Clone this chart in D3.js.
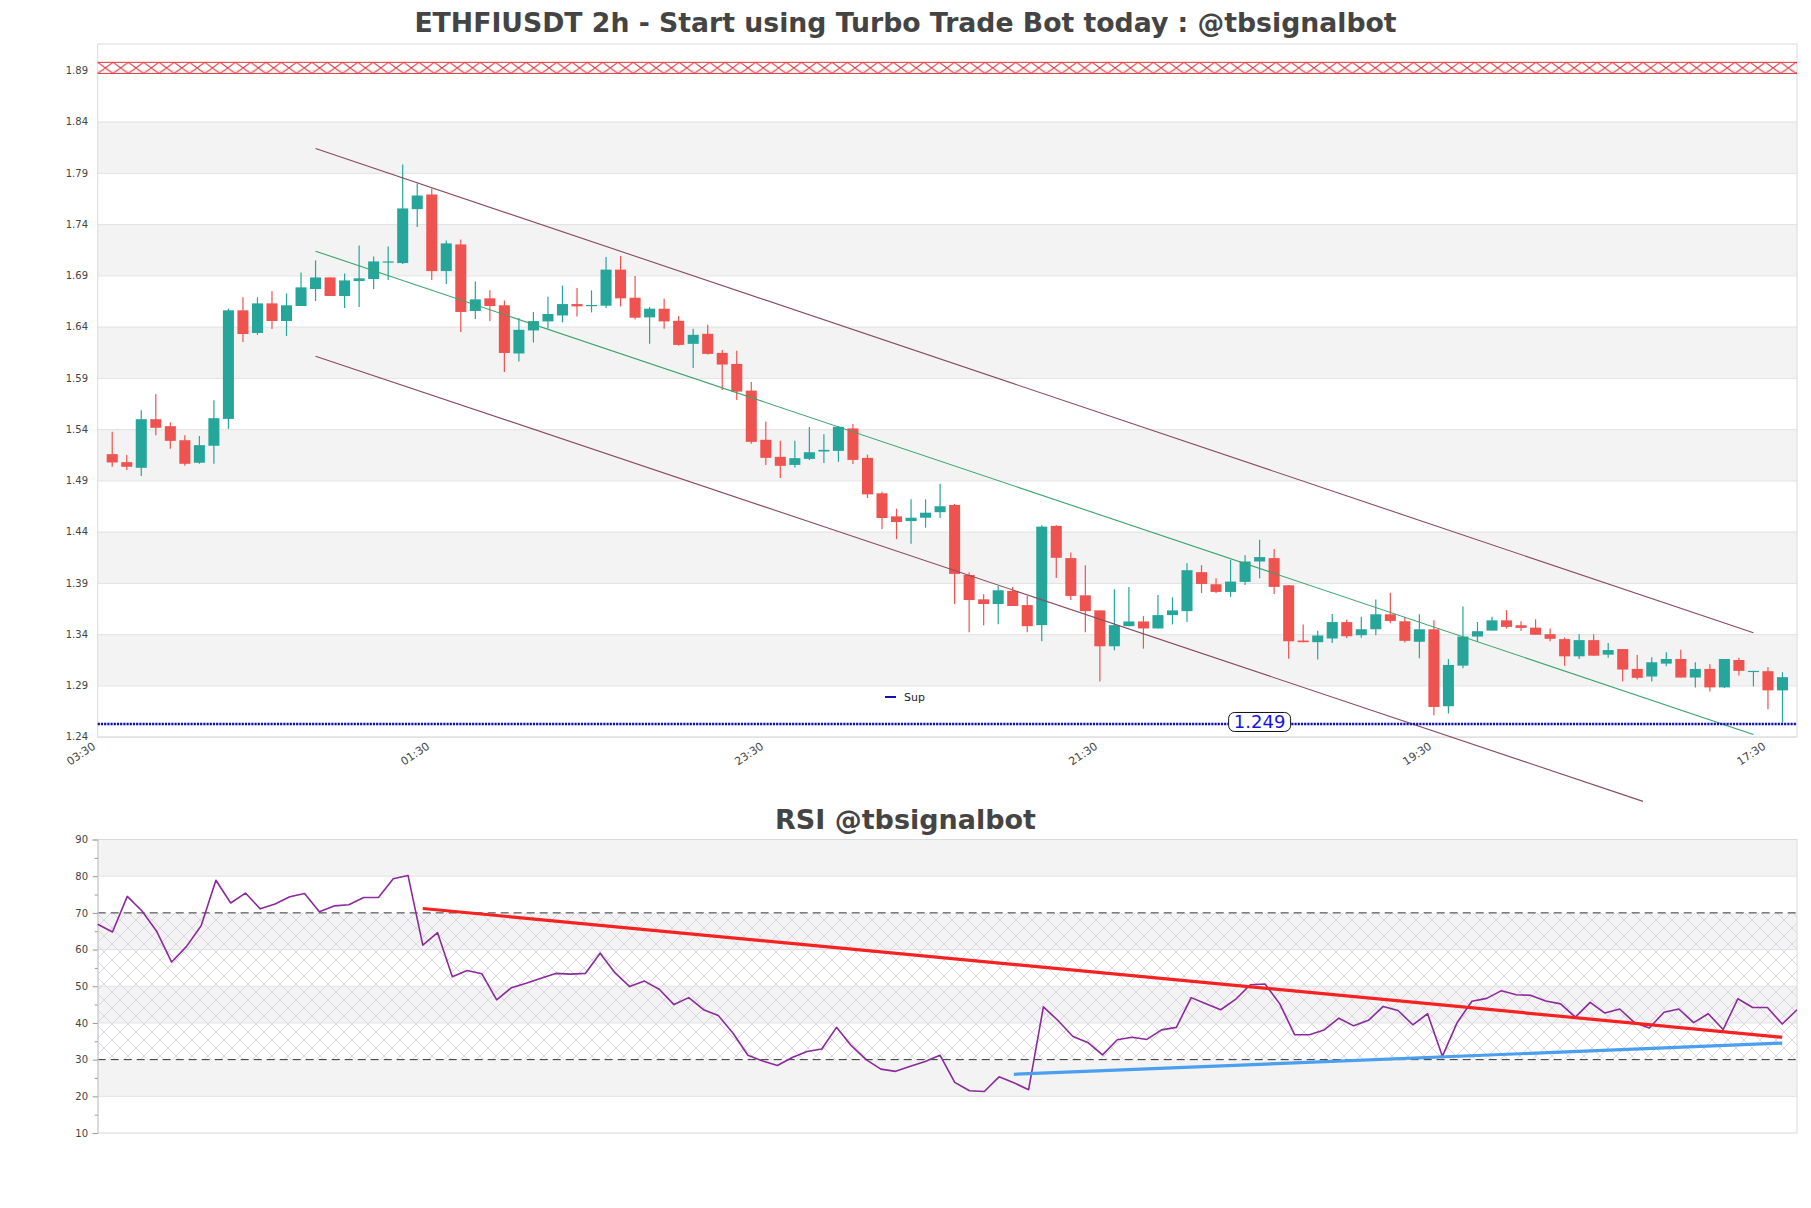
<!DOCTYPE html>
<html><head><meta charset="utf-8">
<script src="https://cdn.jsdelivr.net/npm/d3@7"></script>
<style>body{margin:0;background:#fff;} svg{display:block;}</style>
</head><body>
<svg id="c" width="1811" height="1208"></svg>
<script>
// ---------------- DATA ----------------
const opens  = [1.5156,1.5078,1.5023,1.5497,1.5429,1.5292,1.5072,1.5238,1.5500,1.6559,1.6338,1.6627,1.6455,1.6601,1.6767,1.6880,1.6699,1.6845,1.6864,1.7031,1.7020,1.7546,1.7689,1.6942,1.7202,1.6553,1.6676,1.6608,1.6138,1.6363,1.6451,1.6509,1.6620,1.6601,1.6604,1.6956,1.6682,1.6490,1.6575,1.6457,1.6232,1.6330,1.6144,1.6036,1.5776,1.5296,1.5130,1.5051,1.5110,1.5182,1.5188,1.5407,1.5120,1.4774,1.4549,1.4503,1.4536,1.4590,1.4661,1.3978,1.3740,1.3694,1.3822,1.3684,1.3488,1.4456,1.4142,1.3779,1.3632,1.3282,1.3478,1.3524,1.3456,1.3586,1.3625,1.4005,1.3887,1.3812,1.3910,1.4109,1.4142,1.3877,1.3338,1.3322,1.3358,1.3518,1.3390,1.3448,1.3594,1.3526,1.3326,1.3448,1.2697,1.3093,1.3377,1.3435,1.3535,1.3487,1.3464,1.3400,1.3352,1.3184,1.3342,1.3200,1.3255,1.3061,1.2987,1.3113,1.3158,1.2977,1.3061,1.2881,1.3148,1.3035,1.3039,1.2852];
const highs  = [1.5374,1.5147,1.5585,1.5741,1.5468,1.5341,1.5332,1.5682,1.6575,1.6686,1.6686,1.6744,1.6725,1.6929,1.7046,1.6880,1.6919,1.7192,1.7085,1.7182,1.7981,1.7796,1.7747,1.7241,1.7251,1.6841,1.6754,1.6656,1.6483,1.6542,1.6692,1.6800,1.6777,1.6754,1.7080,1.7090,1.6894,1.6591,1.6673,1.6503,1.6379,1.6418,1.6173,1.6164,1.5860,1.5475,1.5286,1.5286,1.5420,1.5351,1.5430,1.5449,1.5152,1.4790,1.4624,1.4715,1.4715,1.4867,1.4671,1.4001,1.3789,1.3871,1.3861,1.3773,1.4462,1.4462,1.4197,1.4073,1.3632,1.3838,1.3861,1.3576,1.3782,1.3760,1.4093,1.4073,1.3946,1.4125,1.4171,1.4322,1.4230,1.3877,1.3495,1.3433,1.3596,1.3544,1.3571,1.3739,1.3803,1.3571,1.3594,1.3535,1.3158,1.3671,1.3519,1.3571,1.3635,1.3526,1.3545,1.3455,1.3368,1.3400,1.3400,1.3313,1.3255,1.3197,1.3174,1.3223,1.3248,1.3126,1.3106,1.3158,1.3171,1.3042,1.3077,1.3029];
const lows   = [1.5033,1.5001,1.4942,1.5341,1.5208,1.5043,1.5062,1.5062,1.5403,1.6251,1.6319,1.6377,1.6309,1.6601,1.6650,1.6699,1.6582,1.6591,1.6767,1.6855,1.7011,1.7371,1.6855,1.6816,1.6348,1.6475,1.6455,1.5958,1.6059,1.6245,1.6379,1.6441,1.6500,1.6539,1.6581,1.6598,1.6470,1.6232,1.6379,1.6213,1.5997,1.6128,1.5782,1.5684,1.5257,1.5051,1.4924,1.5025,1.5100,1.5071,1.5081,1.5061,1.4728,1.4425,1.4327,1.4282,1.4438,1.4534,1.3694,1.3420,1.3488,1.3498,1.3675,1.3420,1.3331,1.3949,1.3733,1.3420,1.2939,1.3243,1.3478,1.3259,1.3456,1.3495,1.3518,1.3802,1.3802,1.3763,1.3880,1.3946,1.3792,1.3161,1.3322,1.3152,1.3315,1.3361,1.3364,1.3390,1.3506,1.3319,1.3164,1.2610,1.2626,1.3068,1.3326,1.3435,1.3455,1.3432,1.3394,1.3332,1.3093,1.3158,1.3190,1.3171,1.2939,1.2958,1.2939,1.3087,1.2977,1.2881,1.2842,1.2874,1.2997,1.2890,1.2668,1.2539];
const closes = [1.5075,1.5033,1.5497,1.5413,1.5286,1.5062,1.5244,1.5507,1.6559,1.6328,1.6627,1.6455,1.6608,1.6783,1.6880,1.6699,1.6851,1.6871,1.7036,1.7036,1.7553,1.7679,1.6942,1.7212,1.6543,1.6666,1.6601,1.6143,1.6369,1.6454,1.6523,1.6620,1.6598,1.6611,1.6956,1.6676,1.6487,1.6575,1.6451,1.6222,1.6320,1.6134,1.6030,1.5766,1.5276,1.5120,1.5042,1.5117,1.5175,1.5198,1.5423,1.5100,1.4764,1.4533,1.4494,1.4536,1.4585,1.4648,1.3988,1.3733,1.3694,1.3828,1.3675,1.3478,1.4449,1.4145,1.3773,1.3625,1.3282,1.3488,1.3524,1.3456,1.3586,1.3632,1.4024,1.3890,1.3812,1.3913,1.4109,1.4152,1.3861,1.3331,1.3322,1.3387,1.3518,1.3380,1.3448,1.3594,1.3529,1.3335,1.3448,1.2690,1.3100,1.3377,1.3429,1.3535,1.3471,1.3461,1.3394,1.3355,1.3184,1.3342,1.3190,1.3245,1.3055,1.2974,1.3126,1.3158,1.2977,1.3061,1.2881,1.3158,1.3042,1.3042,1.2852,1.2981];

const rsiValues = [66.9,64.8,74.5,70.5,64.9,56.6,60.8,66.5,78.9,72.7,75.4,71.1,72.4,74.4,75.3,70.3,71.9,72.2,74.2,74.2,79.3,80.2,61.2,64.6,52.6,54.3,53.4,46.3,49.6,50.8,52.2,53.5,53.3,53.5,59.0,53.7,49.9,51.4,49.2,45.0,46.9,43.6,42.0,37.2,31.2,29.6,28.4,30.6,32.2,32.9,38.8,33.8,30.0,27.4,26.8,28.2,29.5,31.2,23.8,21.5,21.3,25.3,23.7,21.8,44.4,40.6,36.3,34.7,31.3,35.4,36.1,35.5,38.1,38.8,46.9,45.2,43.6,46.4,50.4,50.6,45.2,36.8,36.8,38.1,41.3,39.2,40.7,44.5,43.4,39.5,42.5,30.9,40.1,45.9,46.7,48.8,47.7,47.5,46.0,45.2,41.6,45.6,42.7,43.8,40.1,38.6,42.9,43.8,40.1,42.5,38.2,46.6,44.2,44.2,39.7,43.6];

const timeTickIdx    = [-1, 22, 45, 68, 91, 114];
const timeTickLabels = ["03:30","01:30","23:30","21:30","19:30","17:30"];
const priceTicks = [1.24,1.29,1.34,1.39,1.44,1.49,1.54,1.59,1.64,1.69,1.74,1.79,1.84,1.89];
const priceBands = [[1.29,1.34],[1.39,1.44],[1.49,1.54],[1.59,1.64],[1.69,1.74],[1.79,1.84]];
const rsiTicks = [10,20,30,40,50,60,70,80,90];
const rsiMinorTicks = [15,25,35,45,55,65,75,85];
const rsiBands = [[20,30],[40,50],[60,70],[80,90]];
const rsiGrid = [20,40,50,60,80];
const rsiLevels = [30,70];

// channel lines: [startIdx, startPrice, endIdx, endPrice]
const channelUpper = [14, 1.8137, 113, 1.3413];
const channelMid   = [14, 1.7136, 113, 1.2422];
const channelLower = [14, 1.6112, 105.4, 1.1769];
// RSI trend lines: [startIdx, startValue, endIdx, endValue]
const rsiResistance = [22, 71.2, 114, 36.1];
const rsiSupport    = [62, 26.0, 114, 34.5];

const supLevel = 1.2524, supLabel = "1.249", supLabelIdx = 79;
const resZone = [1.8870, 1.8978];

const mainTitle = "ETHFIUSDT 2h - Start using Turbo Trade Bot today : @tbsignalbot";
const rsiTitle = "RSI @tbsignalbot";

// ---------------- LAYOUT ----------------
const W = 1811;
const P = {left: 97.7, right: 1797, top: 44, bottom: 737};
const R = {top: 839.5, bottom: 1133};
const C_UP = "#26a69a", C_DN = "#ef5350";
const BAND = "#f3f3f3", GRID = "#e2e2e2", BORDER = "#dadada";
const FONT = "'DejaVu Sans', sans-serif";

const svg = d3.select("#c");
const defs = svg.append("defs");

const x = d3.scaleLinear().domain([-1, 116]).range([P.left, P.right]);
const y = d3.scaleLinear().domain([1.2397, 1.9157]).range([P.bottom, P.top]);
const xR = d3.scaleLinear().domain([0, rsiValues.length - 1]).range([P.left, P.right]);
const yR = d3.scaleLinear().domain([10, 90]).range([R.bottom, R.top]);

// patterns
const resTop = y(resZone[1]), resBot = y(resZone[0]);
const rh = resBot - resTop;
const rp = defs.append("pattern").attr("id","resHatch").attr("patternUnits","userSpaceOnUse")
  .attr("x", P.left).attr("y", resTop).attr("width", 15.3).attr("height", rh);
rp.append("path").attr("d", `M0,0 L15.3,${rh} M0,${rh} L15.3,0`)
  .attr("stroke","#e0343a").attr("stroke-width",1).attr("fill","none");

const hp = defs.append("pattern").attr("id","rsiHatch").attr("patternUnits","userSpaceOnUse")
  .attr("width",16).attr("height",16);
hp.append("path").attr("d","M0,0 L16,16 M16,0 L0,16").attr("stroke","#d5cbdd")
  .attr("stroke-width",0.8).attr("fill","none");

// ---------------- TITLES ----------------
svg.append("text").attr("x", W/2).attr("y", 32).attr("text-anchor","middle")
  .attr("font-family",FONT).attr("font-weight","bold")
  .attr("font-size", 26.7).attr("fill","#444").text(mainTitle);
svg.append("text").attr("x", W/2).attr("y", 829).attr("text-anchor","middle")
  .attr("font-family",FONT).attr("font-weight","bold")
  .attr("font-size", 27).attr("fill","#444").text(rsiTitle);

// ---------------- MAIN CHART ----------------
const main = svg.append("g");
main.selectAll("rect.band").data(priceBands).enter().append("rect")
  .attr("x", P.left).attr("width", P.right - P.left)
  .attr("y", d => y(d[1])).attr("height", d => y(d[0]) - y(d[1])).attr("fill", BAND);

const yAxis = d3.axisLeft(y).tickValues(priceTicks).tickSize(-(P.right - P.left))
  .tickPadding(9.7).tickFormat(d3.format(".2f"));
const ya = main.append("g").attr("transform", `translate(${P.left},0)`).call(yAxis);
ya.select(".domain").remove();
ya.selectAll("line").attr("stroke", GRID);
ya.selectAll("text").attr("font-family",FONT).attr("font-size",10).attr("fill","#444");

main.append("rect").attr("x",P.left).attr("y",P.top).attr("width",P.right-P.left).attr("height",P.bottom-P.top)
  .attr("fill","none").attr("stroke",BORDER);

// resistance zone
main.append("rect").attr("x",P.left).attr("y",resTop).attr("width",P.right-P.left).attr("height",rh)
  .attr("fill","url(#resHatch)");
main.selectAll("line.res").data(resZone).enter().append("line")
  .attr("x1",P.left).attr("x2",P.right).attr("y1",d=>y(d)).attr("y2",d=>y(d))
  .attr("stroke","#e0343a").attr("stroke-width",1);

// x axis labels
const xAxis = d3.axisBottom(x).tickValues(timeTickIdx).tickSize(0).tickPadding(0)
  .tickFormat((d,i) => timeTickLabels[i]);
const xa = main.append("g").attr("transform", `translate(0,${P.bottom})`).call(xAxis);
xa.select(".domain").remove();
xa.selectAll("text").attr("font-family",FONT).attr("font-size",11).attr("fill","#444")
  .attr("text-anchor","end").attr("dy",0).attr("y",0)
  .attr("transform","translate(-2,11) rotate(-34)");

// candles
const bw = (x(1) - x(0)) * 0.76;
const cg = main.append("g");
const idx = d3.range(opens.length);
cg.selectAll("line.wick").data(idx).enter().append("line")
  .attr("x1", i => x(i)).attr("x2", i => x(i))
  .attr("y1", i => y(highs[i])).attr("y2", i => y(lows[i]))
  .attr("stroke", i => closes[i] >= opens[i] ? C_UP : C_DN).attr("stroke-width", 1.2);
cg.selectAll("rect.body").data(idx).enter().append("rect")
  .attr("x", i => x(i) - bw/2).attr("width", bw)
  .attr("y", i => y(Math.max(opens[i], closes[i])))
  .attr("height", i => Math.max(1.2, Math.abs(y(opens[i]) - y(closes[i]))))
  .attr("fill", i => closes[i] >= opens[i] ? C_UP : C_DN);

// channel lines
const chan = [[channelUpper,"#8a4a5e"],[channelMid,"#3aa46c"],[channelLower,"#8a4a5e"]];
main.selectAll("line.chan").data(chan).enter().append("line")
  .attr("x1", d => x(d[0][0])).attr("y1", d => y(d[0][1]))
  .attr("x2", d => x(d[0][2])).attr("y2", d => y(d[0][3]))
  .attr("stroke", d => d[1]).attr("stroke-width", 1.1);

// support line
main.append("line").attr("x1",P.left).attr("x2",P.right).attr("y1",y(supLevel)).attr("y2",y(supLevel))
  .attr("stroke","#1010b0").attr("stroke-width",2.6).attr("stroke-dasharray","2.2,1");
const lbx = x(supLabelIdx), lby = y(supLevel);
main.append("rect").attr("x", lbx - 31).attr("y", lby - 11.5).attr("width", 62).attr("height", 19)
  .attr("rx", 6).attr("fill","#fff").attr("stroke","#111").attr("stroke-width",1);
main.append("text").attr("x", lbx).attr("y", lby + 4.5).attr("text-anchor","middle")
  .attr("font-family",FONT).attr("font-size",18).attr("fill","#1515e6").text(supLabel);

// legend
main.append("line").attr("x1",885).attr("x2",896).attr("y1",697).attr("y2",697)
  .attr("stroke","#1010b0").attr("stroke-width",2);
main.append("text").attr("x",904).attr("y",701).attr("font-family",FONT)
  .attr("font-size",11).attr("fill","#222").text("Sup");

// ---------------- RSI ----------------
const rg = svg.append("g");
rg.selectAll("rect.band").data(rsiBands).enter().append("rect")
  .attr("x",P.left).attr("width",P.right-P.left)
  .attr("y", d => yR(d[1])).attr("height", d => yR(d[0]) - yR(d[1])).attr("fill", BAND);
rg.append("rect").attr("x",P.left).attr("width",P.right-P.left)
  .attr("y", yR(rsiLevels[1])).attr("height", yR(rsiLevels[0]) - yR(rsiLevels[1]))
  .attr("fill","url(#rsiHatch)");
rg.selectAll("line.grid").data(rsiGrid).enter().append("line")
  .attr("x1",P.left).attr("x2",P.right).attr("y1",d=>yR(d)).attr("y2",d=>yR(d)).attr("stroke",GRID);
rg.append("rect").attr("x",P.left).attr("y",R.top).attr("width",P.right-P.left).attr("height",R.bottom-R.top)
  .attr("fill","none").attr("stroke",BORDER);
rg.selectAll("line.lvl").data(rsiLevels).enter().append("line")
  .attr("x1",P.left).attr("x2",P.right).attr("y1",d=>yR(d)).attr("y2",d=>yR(d))
  .attr("stroke","#333").attr("stroke-width",1).attr("stroke-dasharray","8,5");

const ryAxis = d3.axisLeft(yR).tickValues(rsiTicks).tickSize(5).tickPadding(4.7).tickFormat(d3.format("d"));
const rya = rg.append("g").attr("transform",`translate(${P.left},0)`).call(ryAxis);
rya.select(".domain").attr("stroke","#ccc");
rya.selectAll("line").attr("stroke","#999");
rya.selectAll("text").attr("font-family",FONT).attr("font-size",10).attr("fill","#444");
const rmAxis = d3.axisLeft(yR).tickValues(rsiMinorTicks).tickSize(3).tickFormat("");
const rma = rg.append("g").attr("transform",`translate(${P.left},0)`).call(rmAxis);
rma.select(".domain").remove();
rma.selectAll("line").attr("stroke","#999");

const rline = d3.line().x((d,i) => xR(i)).y(d => yR(d));
rg.append("path").datum(rsiValues).attr("d", rline).attr("fill","none")
  .attr("stroke","#8b2a9b").attr("stroke-width",1.6).attr("stroke-linejoin","round");

const trends = [[rsiResistance,"#f52222"],[rsiSupport,"#4aa0ee"]];
rg.selectAll("line.trend").data(trends).enter().append("line")
  .attr("x1", d => xR(d[0][0])).attr("y1", d => yR(d[0][1]))
  .attr("x2", d => xR(d[0][2])).attr("y2", d => yR(d[0][3]))
  .attr("stroke", d => d[1]).attr("stroke-width", 3.2);
</script>
</body></html>
